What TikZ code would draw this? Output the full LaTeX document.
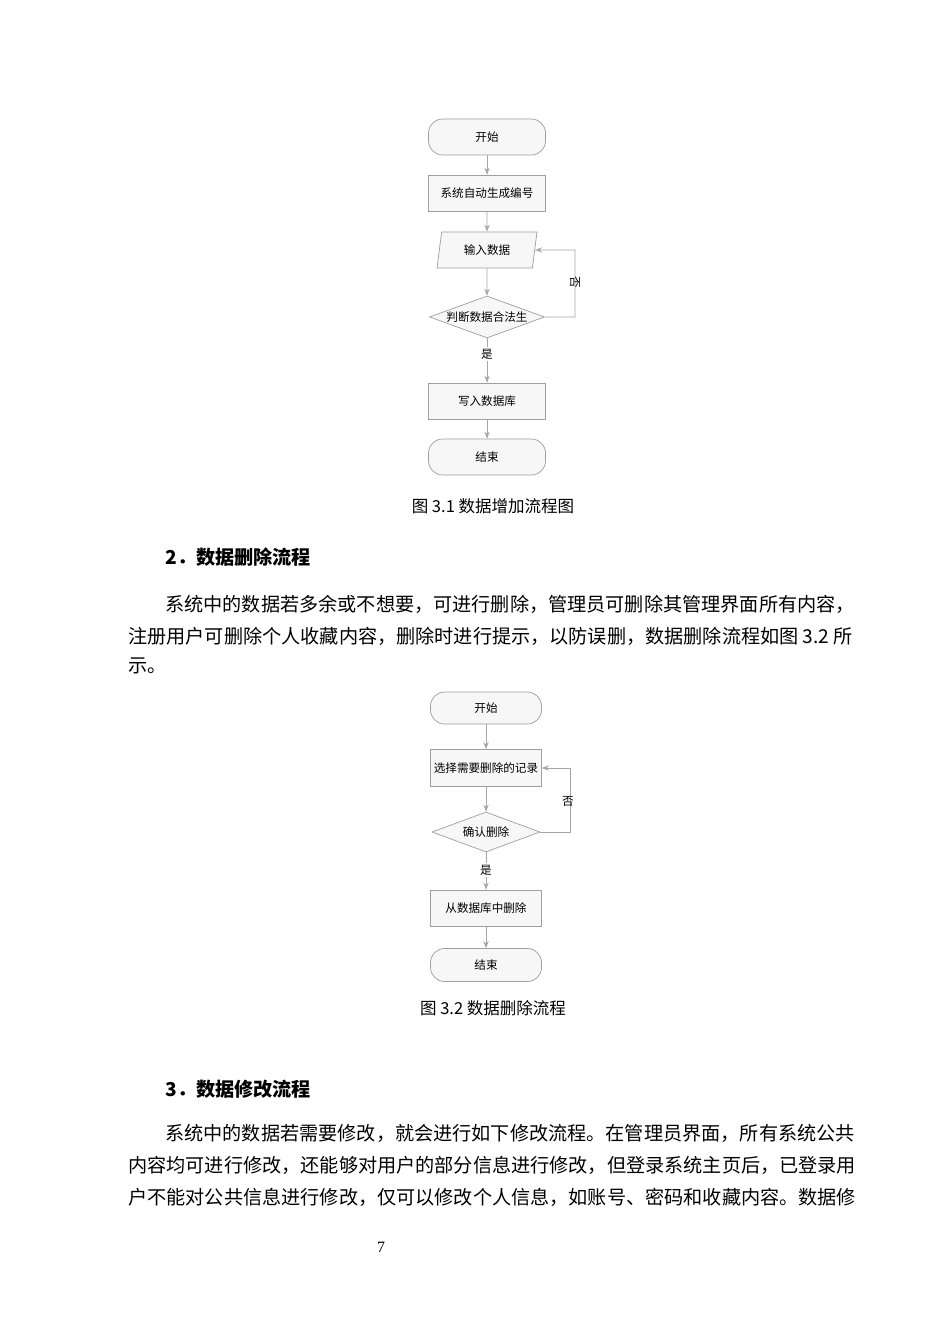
\documentclass[tikz,border=0pt]{standalone}
\usepackage{fontspec}
\setmainfont{Liberation Serif}
\newfontfamily\cjk{Noto Sans CJK SC}
\usetikzlibrary{shapes.geometric,arrows.meta}
\tikzset{
  fbox/.style={draw=gray!75,fill=gray!6,minimum width=117*0.02cm,minimum height=36*0.02cm,font=\cjk\fontsize{6.6}{8}\selectfont,inner sep=1pt},
  fend/.style={fbox,rounded corners=8pt},
  fio/.style={fbox,trapezium,trapezium left angle=72,trapezium right angle=108,minimum width=100*0.02cm,trapezium stretches body},
  fdec/.style={fbox,diamond,aspect=2.8,minimum width=115*0.02cm,minimum height=42*0.02cm,inner sep=0pt},
  flow/.style={draw=gray!70,-{Stealth[length=4pt,width=3pt]}},
  lbl/.style={font=\cjk\fontsize{6.6}{8}\selectfont},
  body/.style={anchor=west,font=\cjk\fontsize{10.9}{13}\selectfont,inner sep=0pt},
  figcap/.style={font=\cjk\fontsize{9.4}{11}\selectfont}
}
\begin{document}
\begin{tikzpicture}[x=0.02cm,y=-0.02cm]
				\useasboundingbox[fill=white] (0,0) rectangle (950,1344);
				% Flowchart 3.1
				\node[fend] (s1) at (487,137) {开始};
				\node[fbox] (n1) at (487,193) {系统自动生成编号};
				\node[fio] (in1) at (487,250) {输入数据};
				\node[fdec] (d1) at (487,317) {判断数据合法生};
				\node[fbox] (w1) at (487,401) {写入数据库};
				\node[fend] (e1) at (487,457) {结束};
				\coordinate (r1) at (575,317);
				\coordinate (r2) at (575,250);
				\draw[flow] (s1) -- (n1);
				\draw[flow] (n1) -- (in1);
				\draw[flow] (in1) -- (d1);
				\draw[flow] (d1) -- (w1);
				\draw[flow] (w1) -- (e1);
				\draw[flow] (d1.east) -- (r1) -- (r2) -- (in1.east);
				\node[lbl,rotate=-90] (no1) at (575,282) {否};
				\node[lbl,fill=white,inner sep=1pt] (yes1) at (487,354) {是};
				\node[figcap] (c1) at (493,506) {图 3.1 数据增加流程图};

				% Section 2
				\node[body,font=\cjk\bfseries\fontsize{10.9}{13}\selectfont] (h2) at (165,557) {2．数据删除流程};
				\node[body] (p21) at (165,604) {系统中的数据若多余或不想要，可进行删除，管理员可删除其管理界面所有内容，};
				\node[body] (p22) at (128,636) {注册用户可删除个人收藏内容，删除时进行提示，以防误删，数据删除流程如图 3.2 所};
				\node[body] (p23) at (128,666) {示。};

				% Flowchart 3.2
				\node[fend,minimum width=111*0.02cm,minimum height=32*0.02cm] (s2) at (486,708) {开始};
				\node[fbox,minimum width=111*0.02cm,minimum height=37*0.02cm] (n2) at (486,768) {选择需要删除的记录};
				\node[fdec,minimum width=108*0.02cm,minimum height=40*0.02cm] (d2) at (486,832) {确认删除};
				\node[fbox,minimum width=111*0.02cm] (x2) at (486,908) {从数据库中删除};
				\node[fend,minimum width=111*0.02cm,minimum height=33*0.02cm] (e2) at (486,965) {结束};
				\coordinate (q1) at (570,832);
				\coordinate (q2) at (570,768);
				\draw[flow] (s2) -- (n2);
				\draw[flow] (n2) -- (d2);
				\draw[flow] (d2) -- (x2);
				\draw[flow] (x2) -- (e2);
				\draw[flow] (d2.east) -- (q1) -- (q2) -- (n2.east);
				\node[lbl] (no2) at (568,801) {否};
				\node[lbl,fill=white,inner sep=1pt] (yes2) at (486,870) {是};
				\node[figcap] (c2) at (493,1008) {图 3.2 数据删除流程};

				% Section 3
				\node[body,font=\cjk\bfseries\fontsize{10.9}{13}\selectfont] (h3) at (165,1089) {3．数据修改流程};
				\node[body] (p31) at (165,1133) {系统中的数据若需要修改，就会进行如下修改流程。在管理员界面，所有系统公共};
				\node[body] (p32) at (128,1165) {内容均可进行修改，还能够对用户的部分信息进行修改，但登录系统主页后，已登录用};
				\node[body] (p33) at (128,1197) {户不能对公共信息进行修改，仅可以修改个人信息，如账号、密码和收藏内容。数据修};
				\node[font=\fontsize{9}{11}\selectfont] (pg) at (381,1247) {7};
			\end{tikzpicture}
\end{document}
